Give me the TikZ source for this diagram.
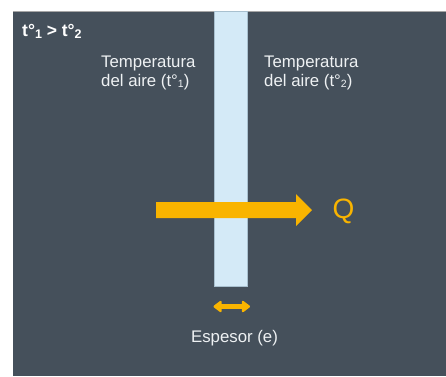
\documentclass[tikz,border=0pt]{standalone}
\usepackage{fontspec}
\setmainfont{Liberation Sans}
\usetikzlibrary{arrows.meta}
\definecolor{bgdark}{HTML}{45505B}
\definecolor{stripblue}{HTML}{D4EAF7}
\definecolor{stripedge}{HTML}{A8C0CF}
\definecolor{heatorange}{HTML}{F9B400}
\definecolor{lighttext}{HTML}{EEF1F3}
\tikzset{
  label txt/.style={text=lighttext, inner sep=0pt, align=left,
    font=\fontsize{16.8}{19.5}\selectfont},
}
\newcommand{\sub}[1]{\raisebox{-1.2pt}{\fontsize{10.5}{10.5}\selectfont #1}}
\newcommand{\subb}[1]{\raisebox{-1.5pt}{\fontsize{12.5}{12.5}\selectfont #1}}
\begin{document}
\begin{tikzpicture}[x=1pt,y=-1pt]
\useasboundingbox (0,0) rectangle (446,376);
% background
\fill[bgdark] (13,11) rectangle (446,376);
\draw[gray!70, line width=0.8pt] (13,11.4) -- (446,11.4);
% wall strip
\draw[fill=stripblue, draw=stripedge, line width=0.6pt] (214,11) rectangle (247,286);
% condition
\node[text=white, inner sep=0pt, anchor=base west, font=\bfseries\fontsize{17.5}{17.5}\selectfont]
  (cond) at (22,36.5) {t°\subb{1} > t°\subb{2}};
% air temperature labels
\node[label txt, anchor=north west] (t1) at (101,55.5) {Temperatura\\del aire (t°\sub{1})};
\node[label txt, anchor=north west] (t2) at (264,55.5) {Temperatura\\del aire (t°\sub{2})};
% heat flow arrow
\fill[heatorange] (156,202) -- (296,202) -- (296,194) -- (312,210) -- (296,226) -- (296,218) -- (156,218) -- cycle;
\node[text=heatorange, inner sep=0pt, font=\fontsize{28}{28}\selectfont] (Q) at (343.5,211.5) {Q};
% thickness
\coordinate (e1) at (213.5,306.5);
\coordinate (e2) at (250,306.5);
\draw[heatorange, line width=5pt, {Triangle[length=9pt,width=13pt,round]}-{Triangle[length=9pt,width=13pt,round]}] (e1) -- (e2);
\node[label txt, anchor=base] (esp) at (234.5,342.5) {Espesor (e)};
\end{tikzpicture}
\end{document}
